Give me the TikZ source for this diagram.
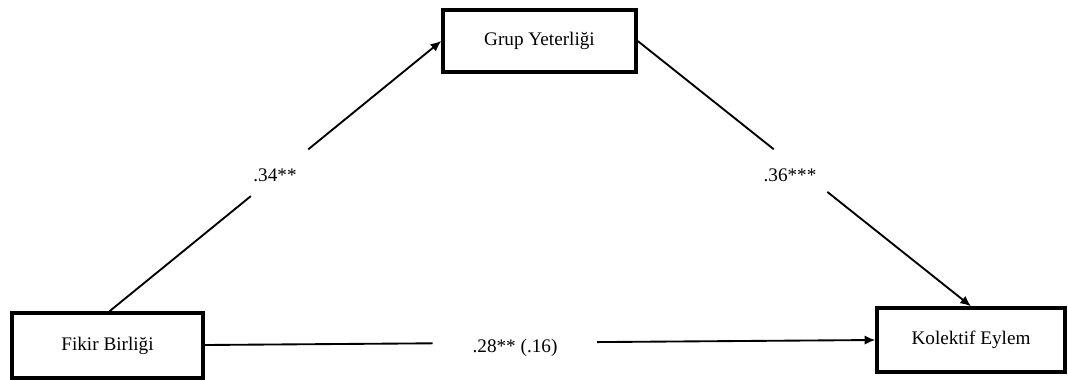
\documentclass[tikz,border=0pt]{standalone}
\usepackage{fontspec}
\setmainfont{Liberation Serif}
\usetikzlibrary{arrows.meta,calc}
\begin{document}
\begin{tikzpicture}[x=0.75pt,y=-0.75pt,
  box/.style={draw=black,line width=2.6pt,rectangle,inner sep=0pt,font=\fontsize{14.4}{17}\selectfont},
  conn/.style={line width=1.4pt},
  arr/.style={conn,-{Latex[length=8pt,width=7pt]}},
  lbl/.style={inner sep=0pt,font=\fontsize{14.4}{17}\selectfont}]
\useasboundingbox (0,0) rectangle (1068,379);
\node[box,minimum width=193*0.75pt,minimum height=62*0.75pt] (grup) at (539.5,41) {Grup Yeterliği};
\node[box,minimum width=191*0.75pt,minimum height=65*0.75pt] (fikir) at (107.5,345.5) {Fikir Birliği};
\node[box,minimum width=188*0.75pt,minimum height=64*0.75pt] (kol) at (971,340) {Kolektif Eylem};
% left diagonal
\coordinate (fn) at ($(fikir.north)+(2,0)$);
\draw[conn] (fn) -- ($(fn)!0.426!(grup.west)$);
\draw[arr] ($(fn)!0.599!(grup.west)$) -- (grup.west);
\node[lbl] (l1) at (275,175) {.34**};
% right diagonal
\draw[conn] (grup.east) -- ($(grup.east)!0.408!(kol.north)$);
\draw[arr] ($(grup.east)!0.569!(kol.north)$) -- (kol.north);
\node[lbl] (l2) at (790,175) {.36***};
% horizontal
\coordinate (fe) at ($(fikir.east)+(0,-0.5)$);
\draw[conn] (fe) -- ($(fe)!0.34!(kol.west)$);
\draw[arr] ($(fe)!0.585!(kol.west)$) -- (kol.west);
\node[lbl] (l3) at (515,348) {.28** (.16)};
\end{tikzpicture}
\end{document}
